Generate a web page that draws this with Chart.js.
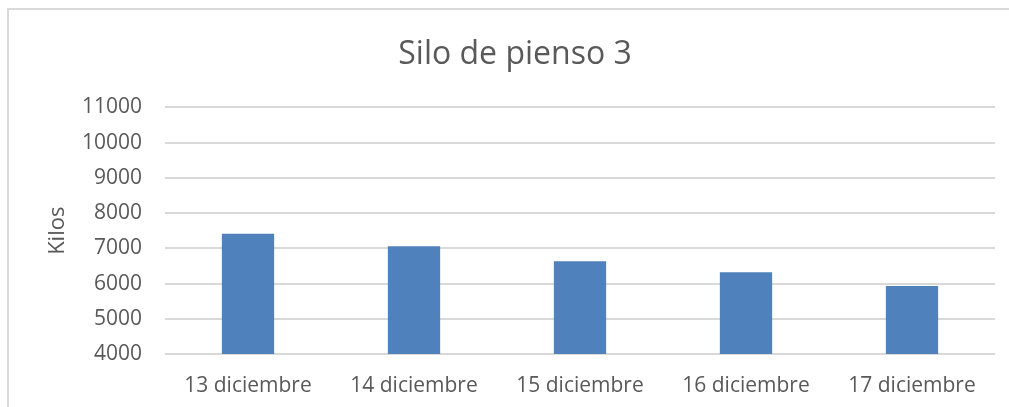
<!DOCTYPE html>
<html>
<head>
<meta charset="utf-8">
<script src="https://cdn.jsdelivr.net/npm/chart.js@4"></script>
<style>
    html, body { margin: 0; padding: 0; background: #fff; overflow: hidden; }
    #frame {
        position: absolute; left: 7px; top: 8px; width: 1100px; height: 500px;
        border-left: 2px solid #d9d9d9; border-top: 2px solid #d9d9d9;
    }
    #wrap { position: absolute; left: 0; top: 0; width: 1009px; height: 407px; }
</style>
</head>
<body>
<div id="frame"></div>
<div id="wrap"><canvas id="siloChart"></canvas></div>
<script>
// stock del silo, kilos por dia
const dias = ['13 diciembre', '14 diciembre', '15 diciembre', '16 diciembre', '17 diciembre'];
const kilos = [7410, 7060, 6635, 6320, 5930];
const ejeMin = 4000;
const ejeMax = 11000;
const ejePaso = 1000;

const gris = '#595959';
const fuente = "'Open Sans', sans-serif";

const ctx = document.getElementById('siloChart').getContext('2d');
new Chart(ctx, {
    type: 'bar',
    data: {
        labels: dias,
        datasets: [{
            label: 'Kilos',
            data: kilos,
            backgroundColor: '#4f81bd',
            barPercentage: 0.9,
            categoryPercentage: 0.35
        }]
    },
    options: {
        responsive: true,
        maintainAspectRatio: false,
        animation: false,
        layout: { padding: { left: 35, right: 14, top: 0, bottom: 0 } },
        plugins: {
            legend: { display: false },
            tooltip: { enabled: false },
            title: {
                display: true,
                text: 'Silo de pienso 3',
                color: gris,
                font: { family: fuente, size: 32, weight: 'normal' },
                padding: { top: 36, bottom: 33 }
            }
        },
        scales: {
            x: {
                grid: { display: false, drawTicks: false },
                border: { display: false },
                ticks: { color: gris, font: { family: fuente, size: 21 }, padding: 19 },
                afterFit: function (scale) { scale.height = 53; }
            },
            y: {
                min: ejeMin,
                max: ejeMax,
                grid: { color: '#d9d9d9', lineWidth: 2, drawTicks: false },
                border: { display: false },
                ticks: {
                    stepSize: ejePaso,
                    color: gris,
                    font: { family: fuente, size: 21 },
                    padding: 23,
                    callback: function (v) { return String(v); }
                },
                title: {
                    display: true,
                    text: 'Kilos',
                    color: gris,
                    font: { family: fuente, size: 22 },
                    padding: { top: 10, bottom: 0 }
                },
                afterFit: function (scale) { scale.width = 130; }
            }
        }
    }
});
</script>
</body>
</html>
